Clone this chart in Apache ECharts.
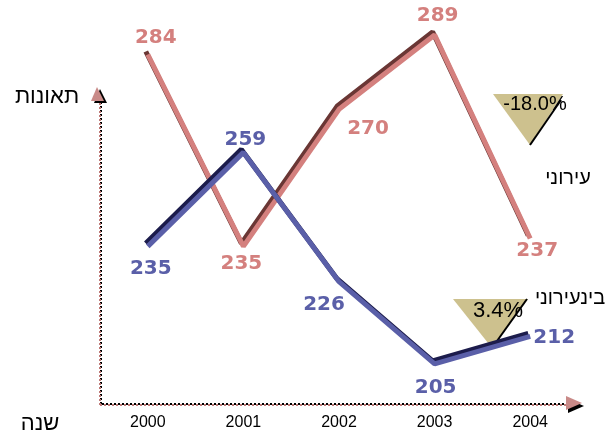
<!DOCTYPE html>
<html><head><meta charset="utf-8">
<script src="https://cdn.jsdelivr.net/npm/echarts@6/dist/echarts.min.js"></script>
<style>html,body{margin:0;padding:0;background:#fff}#c{width:612px;height:435px}</style>
</head><body><div id="c"></div>
<script>
// ---- data ----
const years = ['2000', '2001', '2002', '2003', '2004'];
const urban = [284, 235, 270, 289, 237];
const interurban = [235, 259, 226, 205, 212];
const urbanName = 'עירוני';
const interName = 'בינעירוני';
const yTitle = 'תאונות';
const xTitle = 'שנה';

// ---- build ----
function pct(arr) {
  const a = arr[arr.length - 2], b = arr[arr.length - 1];
  return ((b - a) / a * 100).toFixed(1) + '%';
}
const urbanOff = [[8, -17], [-2, 17], [29, 19], [3, -19], [7, 12]];
const interOff = [[3, 22], [2, -13], [-15, 23], [1, 24], [24, 1]];

const pink = '#d4807e', pinkDark = '#6a3634';
const blue = '#5a5fa8', blueDark = '#1c1c4c';
const tan = '#cdc18e';
const fontLabel = '"DejaVu Sans", Verdana, sans-serif';
const fontText = '"Liberation Sans", Arial, "DejaVu Sans", sans-serif';

function mkSeries(name, vals, offs, color, dark) {
  return {
    name, type: 'line', data: vals.map((v, i) => ({ value: v, label: { offset: offs[i] } })),
    symbol: 'circle', symbolSize: 1, showSymbol: true,
    itemStyle: { color: 'rgba(0,0,0,0)' },
    lineStyle: { width: 5, color, shadowColor: dark, shadowOffsetX: -2, shadowOffsetY: -3, shadowBlur: 0 },
    label: { show: true, position: 'inside', align: 'center', verticalAlign: 'middle',
      color, fontSize: 20, fontWeight: 'bold', fontFamily: fontLabel },
    clip: false, animation: false, silent: true
  };
}

function tri(points, fill) {
  return { type: 'polygon', shape: { points }, style: { fill } };
}
function dotted(x1, y1, x2, y2, color, off) {
  return { type: 'line', shape: { x1, y1, x2, y2 }, style: { stroke: color, lineWidth: 2, lineDash: [2, 2], lineDashOffset: off } };
}
function txt(x, y, text, size, extra) {
  return Object.assign({ type: 'text', x, y, style: { text, fontSize: size, fontFamily: fontText, fill: '#000', align: 'center', verticalAlign: 'middle' } }, extra || {});
}

const chart = echarts.init(document.getElementById('c'), null, { renderer: 'canvas' });
chart.setOption({
  backgroundColor: '#fff',
  animation: false,
  grid: { left: 100, right: 34, top: 31, bottom: 30, containLabel: false },
  xAxis: {
    type: 'category', data: years, boundaryGap: true,
    axisLine: { show: false }, axisTick: { show: false },
    axisLabel: { color: '#000', fontSize: 16, fontFamily: fontText, margin: 10 }
  },
  yAxis: { type: 'value', min: 194.5, max: 290, show: false, splitLine: { show: false } },
  series: [
    mkSeries(urbanName, urban, urbanOff, pink, pinkDark),
    mkSeries(interName, interurban, interOff, blue, blueDark)
  ],
  graphic: [
    // axes
    dotted(101, 406, 101, 100, '#000', 2),
    dotted(100, 405, 100, 100, '#c07a78', 0),
    dotted(100, 404, 568, 404, '#000', 2),
    dotted(100, 405, 568, 405, '#c07a78', 0),
    tri([[100, 89], [94, 103], [107, 103]], '#000'),
    tri([[97, 87], [91, 101], [104, 101]], '#c98a88'),
    tri([[584, 406], [568, 399], [568, 413]], '#000'),
    tri([[582, 403], [566, 396], [566, 410]], '#c98a88'),
    // change indicators
    tri([[493, 94], [563, 94], [530, 145]], tan),
    { type: 'line', shape: { x1: 530, y1: 145, x2: 561, y2: 100 }, style: { stroke: '#000', lineWidth: 2 } },
    tri([[453, 299], [528, 299], [492, 348]], tan),
    { type: 'line', shape: { x1: 492, y1: 348, x2: 527, y2: 299 }, style: { stroke: '#000', lineWidth: 2 } },
    txt(535, 104, pct(urban), 20),
    txt(498, 311, pct(interurban), 22),
    txt(568, 178, urbanName, 20),
    txt(570, 298, interName, 20),
    txt(47, 97, yTitle, 22),
    txt(40, 424, xTitle, 22)
  ]
});
</script>
</body></html>
